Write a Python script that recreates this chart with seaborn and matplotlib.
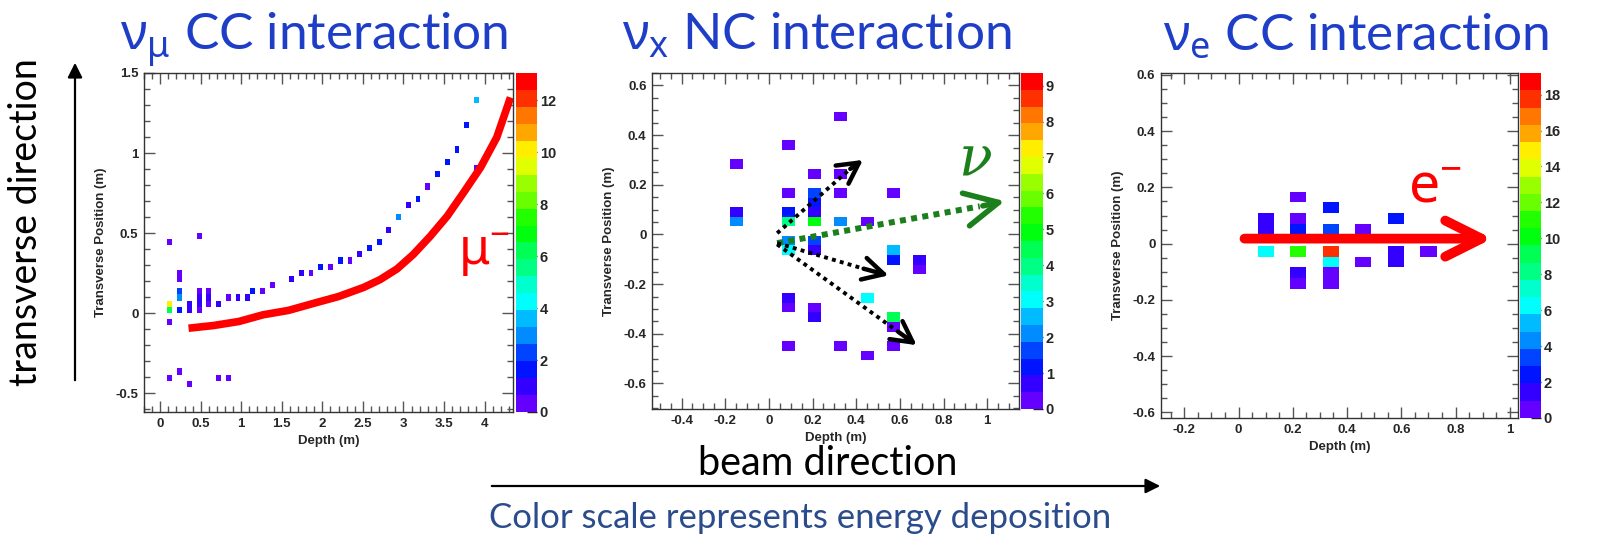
import colorsys
import pandas as pd
import seaborn as sns
import matplotlib
matplotlib.use("Agg")
import matplotlib.pyplot as plt
from matplotlib.colors import ListedColormap
from matplotlib.patches import FancyArrowPatch
from matplotlib.ticker import MultipleLocator

# ---------------- data (read off the event displays) ----------------
# nu_mu CC : depth (m), transverse position (m), energy deposit
mu_depth = [0.12, 0.12, 0.12, 0.12, 0.12,
            0.24, 0.24, 0.24, 0.24, 0.24, 0.24,
            0.36, 0.36, 0.36,
            0.48, 0.48, 0.48, 0.48, 0.48,
            0.60, 0.60, 0.60,
            0.72, 0.72, 0.84, 0.84, 0.96, 1.08, 1.14, 1.26, 1.38,
            1.62, 1.74, 1.86, 1.98, 2.10, 2.22, 2.34, 2.46, 2.58, 2.70,
            2.82, 2.94, 3.06, 3.18, 3.30, 3.42, 3.54, 3.66, 3.78, 3.90, 3.90]
mu_trans = [0.441, 0.060, 0.021, -0.059, -0.403,
            0.252, 0.213, 0.136, 0.098, 0.021, -0.364,
            0.060, 0.021, -0.441,
            0.483, 0.136, 0.098, 0.060, 0.021,
            0.136, 0.098, 0.060,
            0.060, -0.403, 0.098, -0.403, 0.098, 0.098, 0.136, 0.136, 0.175,
            0.213, 0.252, 0.252, 0.291, 0.291, 0.329, 0.329, 0.368, 0.406, 0.445,
            0.522, 0.599, 0.676, 0.714, 0.791, 0.868, 0.945, 1.022, 1.176, 1.330, 0.907]
mu_energy = [0.3, 10.0, 6.2, 0.3, 0.3,
             0.3, 0.3, 2.2, 2.9, 1.8, 0.3,
             0.9, 1.0, 0.3,
             0.3, 0.3, 0.9, 0.9, 0.3,
             0.3, 0.9, 0.3,
             0.9, 0.3, 0.3, 0.3, 0.9, 0.9, 1.6, 0.3, 0.3,
             0.9, 0.9, 0.3, 1.6, 0.3, 1.6, 0.3, 0.9, 1.6, 1.9,
             0.9, 2.9, 0.9, 1.6, 0.3, 1.6, 1.6, 1.6, 1.6, 3.6, 0.3]

# nu_x NC
nc_depth = [0.33, 0.09, -0.15, 0.21, 0.33, 0.09, 0.21, 0.21, 0.21, 0.33, 0.57,
            -0.15, -0.15, 0.09, 0.09, 0.21, 0.33, 0.45,
            0.09, 0.09, 0.21, 0.21, 0.57, 0.57, 0.69, 0.69,
            0.45, 0.09, 0.09, 0.21, 0.21, 0.57, 0.57,
            0.09, 0.33, 0.57, 0.45]
nc_trans = [0.476, 0.360, 0.283, 0.245, 0.245, 0.168, 0.168, 0.128, 0.090, 0.168, 0.168,
            0.090, 0.052, 0.090, 0.052, 0.052, 0.052, 0.052,
            -0.025, -0.064, -0.025, -0.064, -0.064, -0.103, -0.103, -0.142,
            -0.257, -0.257, -0.296, -0.296, -0.335, -0.335, -0.373,
            -0.450, -0.450, -0.450, -0.489]
nc_energy = [0.2, 0.2, 0.2, 0.2, 0.2, 0.2, 1.5, 1.2, 0.5, 0.2, 0.2,
             0.9, 2.1, 1.2, 3.9, 4.9, 2.2, 0.2,
             2.2, 3.0, 1.6, 0.5, 2.6, 1.2, 0.8, 0.3,
             3.0, 0.9, 0.4, 0.4, 0.8, 4.4, 0.4,
             0.2, 0.2, 0.2, 0.2]

# nu_e CC
e_depth = [0.10, 0.10, 0.10,
           0.22, 0.22, 0.22, 0.22, 0.22, 0.22,
           0.34, 0.34, 0.34, 0.34, 0.34, 0.34,
           0.46, 0.46, 0.58, 0.58, 0.58, 0.70]
e_trans = [0.088, 0.050, -0.027,
           0.165, 0.088, 0.050, -0.027, -0.104, -0.142,
           0.127, 0.050, -0.027, -0.066, -0.104, -0.142,
           0.050, -0.066, 0.088, -0.027, -0.066, -0.027]
e_energy = [1.4, 1.3, 6.2,
            0.4, 0.5, 2.4, 11.0, 1.4, 0.5,
            2.4, 3.4, 17.8, 6.2, 0.5, 0.5,
            0.5, 0.5, 2.4, 1.3, 1.3, 0.5]

# hand-drawn annotation paths
mu_track_x = [0.35, 0.66, 0.97, 1.27, 1.58, 1.89, 2.20, 2.51, 2.71, 2.92,
              3.12, 3.33, 3.54, 3.74, 3.95, 4.15, 4.32]
mu_track_y = [-0.094, -0.077, -0.052, -0.010, 0.017, 0.061, 0.104, 0.161, 0.209, 0.276,
              0.366, 0.480, 0.606, 0.752, 0.909, 1.097, 1.347]

# ---------------- style ----------------
sns.set_style("ticks")
plt.rcParams["font.family"] = ["Liberation Sans", "DejaVu Sans"]
plt.rcParams["mathtext.fontset"] = "custom"
plt.rcParams["mathtext.rm"] = "Noto Sans"
plt.rcParams["mathtext.it"] = "Noto Sans:italic"
plt.rcParams["mathtext.bf"] = "Noto Sans:bold"

# ROOT "pretty" palette, 20 contour levels
root_colors = []
for k in range(20):
    ci = int((k + 0.99) * 50 / 20)
    hue = 0.0 if ci >= 49 else 280 - (ci + 1) * 5.6
    root_colors.append(colorsys.hls_to_rgb(hue / 360.0, 0.5, 1.0))
root_cmap = ListedColormap(sns.color_palette(root_colors))

fig = plt.figure(figsize=(16.14, 5.42), dpi=100)

TITLE_BLUE = "#1f3ec8"


def draw_panel(rect, crect, depth, trans, energy, binwidth, binrange, vmax,
               cticks, xlim, ylim, xmaj, xmin, ymaj, ymin):
    ax = fig.add_axes(rect)
    cax = fig.add_axes(crect)
    df = pd.DataFrame({"depth": depth, "trans": trans, "energy": energy})
    sns.histplot(data=df, x="depth", y="trans", weights="energy",
                 binwidth=binwidth, binrange=binrange, cmap=root_cmap,
                 vmin=0, vmax=vmax, cbar=True, cbar_ax=cax, ax=ax)
    ax.set_xlim(*xlim)
    ax.set_ylim(*ylim)
    ax.xaxis.set_major_locator(MultipleLocator(xmaj))
    ax.xaxis.set_minor_locator(MultipleLocator(xmin))
    ax.yaxis.set_major_locator(MultipleLocator(ymaj))
    ax.yaxis.set_minor_locator(MultipleLocator(ymin))
    ax.xaxis.set_major_formatter(plt.FuncFormatter(lambda v, p: f"{v:g}"))
    ax.yaxis.set_major_formatter(plt.FuncFormatter(lambda v, p: f"{v:g}"))
    ax.tick_params(which="both", direction="in", top=True, right=True,
                   color="#555555", width=1)
    ax.tick_params(which="major", length=8, labelsize=9.5, pad=4)
    ax.tick_params(which="minor", length=4)
    for lab in ax.get_xticklabels() + ax.get_yticklabels():
        lab.set_fontweight("bold")
    for sp in ax.spines.values():
        sp.set_color("#333333")
        sp.set_linewidth(1)
    ax.set_xlabel("Depth (m)", fontsize=9.5, fontweight="bold", labelpad=4)
    ax.set_ylabel("Transverse Position (m)", fontsize=9.5, fontweight="bold", labelpad=6)
    ax.grid(False)

    cax.set_yticks(cticks)
    cax.tick_params(axis="y", direction="in", length=7, width=1, color="#222222",
                    labelsize=10.5, pad=2, right=True, left=False)
    for lab in cax.get_yticklabels():
        lab.set_fontweight("bold")
    for sp in cax.spines.values():
        sp.set_visible(False)
    return ax


# nu_mu CC
ax1 = draw_panel([0.0892, 0.2399, 0.2286, 0.6255], [0.3197, 0.2399, 0.0130, 0.6255],
                 mu_depth, mu_trans, mu_energy, (0.06, 0.0385),
                 ((0.09, 3.99), (-0.49875, 1.38775)), 13.05, range(0, 13, 2),
                 (-0.2, 4.35), (-0.617, 1.5), 0.5, 0.1, 0.5, 0.1)
ax1.plot(mu_track_x, mu_track_y, color="red", lw=5.5, solid_capstyle="butt",
         solid_joinstyle="round", zorder=5)
ax1.text(3.67, 0.30, r"$\mathrm{\mu^{-}}$", color="red", fontsize=36, ha="left", va="baseline")

# nu_x NC
ax2 = draw_panel([0.4040, 0.2454, 0.2274, 0.6199], [0.6326, 0.2454, 0.0136, 0.6199],
                 nc_depth, nc_trans, nc_energy, (0.06, 0.0385),
                 ((-0.18, 0.72), (-0.5065, 0.4945)), 9.35, range(0, 10),
                 (-0.535, 1.146), (-0.703, 0.65), 0.2, 0.05, 0.2, 0.05)

green = "#1b7f1b"
ax2.plot([0.038, 0.966], [-0.035, 0.113], color=green, lw=4.3,
         linestyle=(0, (1, 0.9)), dash_capstyle="butt", zorder=5)
ax2.annotate("", xy=(1.08, 0.134), xytext=(0.98, 0.115),
             arrowprops=dict(arrowstyle="->, head_length=1.2, head_width=0.6",
                             mutation_scale=20, lw=4, color=green, shrinkA=0, shrinkB=0),
             zorder=5)
black_arrows = [((0.038, 0.005), (0.373, 0.264), (0.431, 0.30)),
                ((0.038, -0.035), (0.434, -0.138), (0.548, -0.165)),
                ((0.038, -0.040), (0.594, -0.393), (0.677, -0.446))]
for (x0, y0), (x1, y1), (xt, yt) in black_arrows:
    ax2.plot([x0, x1], [y0, y1], color="black", lw=2.8,
             linestyle=(0, (1, 1.1)), dash_capstyle="butt", zorder=5)
    ax2.annotate("", xy=(xt, yt), xytext=(x1, y1),
                 arrowprops=dict(arrowstyle="->, head_length=0.75, head_width=0.4",
                                 mutation_scale=20, lw=3.2, color="black",
                                 shrinkA=0, shrinkB=0), zorder=5)
ax2.text(0.945, 0.30, "ν", color=green, fontsize=40, family="DejaVu Serif",
         style="italic", ha="center", va="center")

# nu_e CC
ax3 = draw_panel([0.7193, 0.2288, 0.2212, 0.6365], [0.9418, 0.2288, 0.0130, 0.6365],
                 e_depth, e_trans, e_energy, (0.06, 0.0385),
                 ((0.07, 0.73), (-0.1615, 0.185)), 19.2, range(0, 19, 2),
                 (-0.286, 1.03), (-0.62, 0.607), 0.2, 0.05, 0.2, 0.05)
ax3.annotate("", xy=(0.935, 0.018), xytext=(0.022, 0.018),
             arrowprops=dict(arrowstyle="->, head_length=1.3, head_width=0.65",
                             mutation_scale=20, lw=7, color="red",
                             shrinkA=0, shrinkB=0), zorder=5)
ax3.text(0.624, 0.145, r"$\mathrm{e^{-}}$", color="red", fontsize=40, ha="left", va="baseline")

# titles
titles = [r"$\mathrm{\nu_{\mu}}$ CC interaction",
          r"$\mathrm{\nu_{x}}$ NC interaction",
          r"$\mathrm{\nu_{e}}$ CC interaction"]
for xc, t in zip([314 / 1614, 817 / 1614, 1356 / 1614], titles):
    fig.text(xc, 1 - 50 / 542, t, color=TITLE_BLUE, fontsize=37, family="Lato",
             ha="center", va="baseline")

# direction guides
fig.text(26 / 1614, 1 - 222 / 542, "transverse direction", rotation=90, fontsize=27,
         family="Lato", ha="center", va="center", color="black")
fig.add_artist(FancyArrowPatch((75 / 1614, 1 - 383 / 542), (75 / 1614, 1 - 60 / 542),
                               transform=fig.transFigure, arrowstyle="-|>",
                               mutation_scale=22, lw=1.6, color="black"))
fig.text(828 / 1614, 1 - 475 / 542, "beam direction", fontsize=28.5, family="Lato",
         ha="center", va="baseline", color="black")
fig.add_artist(FancyArrowPatch((489 / 1614, 1 - 486 / 542), (1163 / 1614, 1 - 486 / 542),
                               transform=fig.transFigure, arrowstyle="-|>",
                               mutation_scale=22, lw=1.6, color="black"))
fig.text(800 / 1614, 1 - 528 / 542, "Color scale represents energy deposition",
         fontsize=25, family="Lato", ha="center", va="baseline", color="#2b4c8c")

fig.savefig("out.png", dpi=100)
